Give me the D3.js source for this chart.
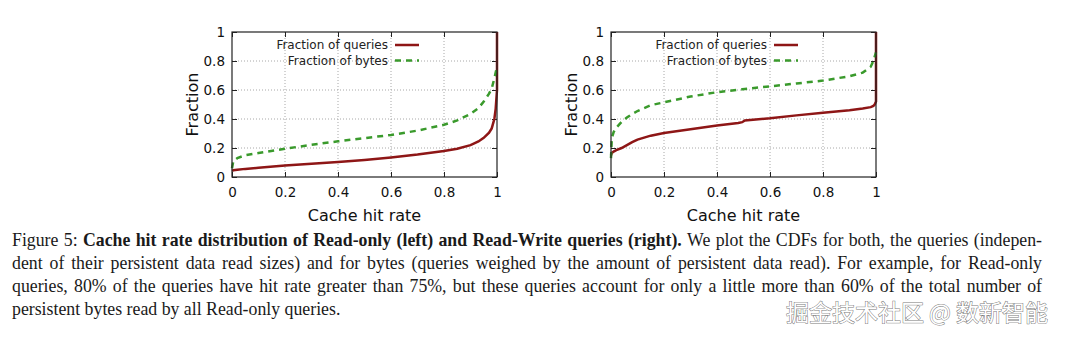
<!DOCTYPE html>
<html><head><meta charset="utf-8">
<script src="https://cdn.jsdelivr.net/npm/d3@7"></script>
<style>
html,body{margin:0;padding:0;background:#fff;}
svg{display:block;}
</style></head>
<body>
<svg id="c" width="1080" height="340"></svg>
<script>
// ---------- data ----------
const axisTicks = [0, 0.2, 0.4, 0.6, 0.8, 1];
const tickLabels = ["0", "0.2", "0.4", "0.6", "0.8", "1"];
const seriesNames = ["Fraction of queries", "Fraction of bytes"];

const roHitRate = [0, 0.005, 0.02, 0.05, 0.1, 0.2, 0.3, 0.4, 0.5, 0.6, 0.7, 0.8, 0.85, 0.9, 0.93, 0.95, 0.97, 0.98, 0.99, 0.995, 1, 1];
const roQueries = [0.042, 0.046, 0.05, 0.056, 0.063, 0.08, 0.092, 0.104, 0.118, 0.135, 0.155, 0.18, 0.195, 0.22, 0.245, 0.27, 0.305, 0.335, 0.40, 0.47, 0.60, 1.0];
const roBytes   = [0.06, 0.11, 0.13, 0.15, 0.165, 0.195, 0.222, 0.246, 0.268, 0.29, 0.32, 0.36, 0.39, 0.435, 0.475, 0.52, 0.575, 0.61, 0.68, 0.72, 0.76, 0.76];

const rwHitRate = [0, 0.003, 0.01, 0.02, 0.04, 0.06, 0.08, 0.1, 0.15, 0.2, 0.3, 0.4, 0.48, 0.495, 0.505, 0.6, 0.7, 0.8, 0.9, 0.95, 0.98, 0.99, 0.995, 1, 1];
const rwQueries = [0.15, 0.165, 0.175, 0.185, 0.2, 0.22, 0.24, 0.258, 0.285, 0.303, 0.33, 0.355, 0.372, 0.378, 0.39, 0.405, 0.425, 0.443, 0.46, 0.472, 0.482, 0.49, 0.50, 0.52, 1.0];
const rwBytes   = [0.13, 0.27, 0.31, 0.34, 0.38, 0.41, 0.435, 0.455, 0.495, 0.515, 0.555, 0.585, 0.602, 0.605, 0.607, 0.625, 0.645, 0.665, 0.695, 0.72, 0.76, 0.80, 0.83, 0.86, 0.86];

const captionLines = [
  [["Figure 5: ", false], ["Cache hit rate distribution of Read-only (left) and Read-Write queries (right).", true], [" We plot the CDFs for both, the queries (indepen-", false]],
  [["dent of their persistent data read sizes) and for bytes (queries weighed by the amount of persistent data read). For example, for Read-only", false]],
  [["queries, 80% of the queries have hit rate greater than 75%, but these queries account for only a little more than 60% of the total number of", false]],
  [["persistent bytes read by all Read-only queries.", false]]
];
const watermark = "掘金技术社区 @ 数新智能";

// ---------- drawing ----------
const svg = d3.select("#c");
const RED = "#8e1616", GREEN = "#3a9a2c";
const sans = "DejaVu Sans, sans-serif";

function panel(left, xs, q, b) {
  const W = 265, H = 145, top = 32;
  const x = d3.scaleLinear().domain([0, 1]).range([left, left + W]);
  const y = d3.scaleLinear().domain([0, 1]).range([top + H, top]);
  const g = svg.append("g");

  // grid
  g.append("g").selectAll("line").data(axisTicks.slice(1, -1)).join("line")
    .attr("x1", d => x(d)).attr("x2", d => x(d)).attr("y1", y(0)).attr("y2", y(1))
    .attr("stroke", "#a8a8a8").attr("stroke-width", 1).attr("stroke-dasharray", "1,2");
  g.append("g").selectAll("line").data(axisTicks.slice(1, -1)).join("line")
    .attr("y1", d => y(d)).attr("y2", d => y(d)).attr("x1", x(0)).attr("x2", x(1))
    .attr("stroke", "#a8a8a8").attr("stroke-width", 1).attr("stroke-dasharray", "1,2");

  // axes (inward ticks, mirrored)
  const fmt = (d) => tickLabels[axisTicks.indexOf(d)];
  const ax = g.append("g").attr("transform", `translate(0,${y(0)})`)
    .call(d3.axisBottom(x).tickValues(axisTicks).tickFormat(fmt).tickSizeInner(-5).tickSizeOuter(0).tickPadding(10));
  const ay = g.append("g").attr("transform", `translate(${x(0)},0)`)
    .call(d3.axisLeft(y).tickValues(axisTicks).tickFormat(fmt).tickSizeInner(-5).tickSizeOuter(0).tickPadding(7));
  const axT = g.append("g").attr("transform", `translate(0,${y(1)})`)
    .call(d3.axisTop(x).tickValues(axisTicks).tickFormat("").tickSizeInner(-5).tickSizeOuter(0));
  const ayR = g.append("g").attr("transform", `translate(${x(1)},0)`)
    .call(d3.axisRight(y).tickValues(axisTicks).tickFormat("").tickSizeInner(-5).tickSizeOuter(0));
  [ax, ay, axT, ayR].forEach(a => {
    a.select(".domain").remove();
    a.selectAll("line").attr("stroke", "#222");
    a.selectAll("text").attr("font-family", sans).attr("font-size", 13.5).attr("fill", "#111");
  });

  // lines
  const line = (ys) => d3.line().x((d, i) => x(xs[i])).y((d, i) => y(ys[i]))(xs);
  g.append("path").attr("d", line(q)).attr("fill", "none").attr("stroke", RED).attr("stroke-width", 2.5);
  g.append("path").attr("d", line(b)).attr("fill", "none").attr("stroke", GREEN).attr("stroke-width", 2.5).attr("stroke-dasharray", "6,5");

  // border
  g.append("rect").attr("x", x(0)).attr("y", y(1)).attr("width", W).attr("height", H)
    .attr("fill", "none").attr("stroke", "#222").attr("stroke-width", 1.2);

  // legend
  const lx = left + 156;
  const leg = [[RED, null], [GREEN, "6,5"]];
  seriesNames.forEach((n, i) => {
    const yy = 45 + i * 15.5;
    g.append("text").attr("x", lx).attr("y", yy).attr("dy", "0.35em").attr("text-anchor", "end")
      .attr("font-family", sans).attr("font-size", 12).attr("fill", "#222").text(n);
    g.append("line").attr("x1", lx + 7).attr("x2", lx + 31).attr("y1", yy).attr("y2", yy)
      .attr("stroke", leg[i][0]).attr("stroke-width", 2.5).attr("stroke-dasharray", leg[i][1]);
  });

  // axis titles
  g.append("text").attr("x", x(0.5)).attr("y", 221).attr("text-anchor", "middle")
    .attr("font-family", sans).attr("font-size", 16).attr("fill", "#111").text("Cache hit rate");
  g.append("text").attr("transform", `translate(${left - 40},${y(0.5)}) rotate(-90)`).attr("text-anchor", "middle")
    .attr("dy", "0.35em").attr("font-family", sans).attr("font-size", 16).attr("fill", "#111").text("Fraction");
}

panel(232, roHitRate, roQueries, roBytes);
panel(611, rwHitRate, rwQueries, rwBytes);

// caption (justified)
const serif = "Liberation Serif, Times New Roman, serif";
const capX = 12, capR = 1042, capFS = 17.8;
const baselines = [246, 269, 292, 315];
const meas = svg.append("text").attr("font-family", serif).attr("font-size", capFS);
function wordWidth(w, bold) {
  meas.attr("font-weight", bold ? "bold" : "normal").text(w);
  return meas.node().getComputedTextLength();
}
captionLines.forEach((segs, li) => {
  const words = [];
  segs.forEach(([t, bold]) => {
    t.split(" ").forEach((w) => {
      if (w === "") return;
      words.push({ w, bold });
    });
  });
  words.forEach(o => o.width = wordWidth(o.w, o.bold));
  const total = d3.sum(words, o => o.width);
  const justify = li < captionLines.length - 1;
  const gap = justify ? (capR - capX - total) / (words.length - 1) : wordWidth("a b", false) - wordWidth("ab", false);
  let cx = capX;
  const t = svg.append("text").attr("font-family", serif).attr("font-size", capFS).attr("fill", "#1a1a1a").attr("y", baselines[li]);
  words.forEach(o => {
    t.append("tspan").attr("x", cx).attr("font-weight", o.bold ? "bold" : "normal").text(o.w);
    cx += o.width + gap;
  });
});
meas.remove();

// watermark
svg.append("text").attr("x", 1048).attr("y", 321).attr("text-anchor", "end")
  .attr("font-family", "Noto Sans CJK SC, sans-serif").attr("font-size", 23)
  .attr("fill", "#ffffff").attr("stroke", "#7a7a7a").attr("stroke-width", 1).attr("paint-order", "stroke")
  .text(watermark);
</script>
</body></html>
